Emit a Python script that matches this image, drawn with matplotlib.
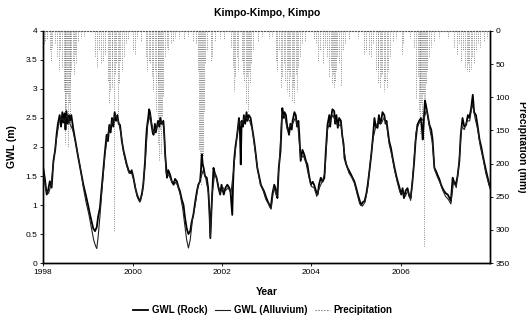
import matplotlib.pyplot as plt
from matplotlib.ticker import FormatStrFormatter

plt.rcParams['font.family'] = ['Liberation Sans', 'DejaVu Sans']

# GWL (Rock), decimal year and level (m)
rock_t = [1998.00, 1998.04, 1998.08, 1998.11, 1998.15, 1998.19, 1998.23, 1998.27, 1998.30, 1998.33,
          1998.37, 1998.40, 1998.43, 1998.45, 1998.48, 1998.50, 1998.52, 1998.55, 1998.58, 1998.60,
          1998.63, 1998.67, 1998.71, 1998.75, 1998.79, 1998.83, 1998.87, 1998.90, 1998.94, 1998.97,
          1999.01, 1999.05, 1999.09, 1999.12, 1999.16, 1999.20, 1999.23, 1999.27, 1999.31, 1999.35,
          1999.38, 1999.42, 1999.45, 1999.48, 1999.51, 1999.54, 1999.57, 1999.60, 1999.63, 1999.66,
          1999.69, 1999.72, 1999.76, 1999.80, 1999.84, 1999.87, 1999.91, 1999.95, 1999.98, 2000.02,
          2000.06, 2000.10, 2000.14, 2000.17, 2000.21, 2000.24, 2000.28, 2000.30, 2000.32, 2000.35,
          2000.37, 2000.39, 2000.42, 2000.45, 2000.47, 2000.50, 2000.52, 2000.54, 2000.57, 2000.60,
          2000.62, 2000.65, 2000.69, 2000.71, 2000.73, 2000.77, 2000.80, 2000.84, 2000.88, 2000.92,
          2000.95, 2000.99, 2001.03, 2001.06, 2001.10, 2001.14, 2001.17, 2001.21, 2001.25, 2001.29,
          2001.32, 2001.36, 2001.40, 2001.44, 2001.47, 2001.51, 2001.53, 2001.55, 2001.57, 2001.59,
          2001.62, 2001.66, 2001.69, 2001.72, 2001.74, 2001.77, 2001.81, 2001.84, 2001.88, 2001.92,
          2001.96, 2001.99, 2002.04, 2002.08, 2002.12, 2002.16, 2002.19, 2002.23, 2002.25, 2002.27,
          2002.30, 2002.34, 2002.38, 2002.40, 2002.42, 2002.44, 2002.47, 2002.49, 2002.52, 2002.55,
          2002.57, 2002.60, 2002.64, 2002.67, 2002.70, 2002.72, 2002.76, 2002.79, 2002.83, 2002.87,
          2002.90, 2002.94, 2002.98, 2003.02, 2003.06, 2003.09, 2003.13, 2003.17, 2003.21, 2003.24,
          2003.27, 2003.31, 2003.35, 2003.38, 2003.40, 2003.43, 2003.46, 2003.50, 2003.53, 2003.56,
          2003.58, 2003.62, 2003.65, 2003.68, 2003.71, 2003.73, 2003.76, 2003.80, 2003.84, 2003.88,
          2003.91, 2003.95, 2003.99, 2004.03, 2004.06, 2004.10, 2004.14, 2004.17, 2004.21, 2004.25,
          2004.29, 2004.32, 2004.36, 2004.40, 2004.42, 2004.44, 2004.47, 2004.51, 2004.53, 2004.56,
          2004.59, 2004.62, 2004.66, 2004.69, 2004.72, 2004.74, 2004.78, 2004.81, 2004.85, 2004.89,
          2004.92, 2004.96, 2005.00, 2005.04, 2005.08, 2005.11, 2005.15, 2005.19, 2005.23, 2005.26,
          2005.30, 2005.34, 2005.38, 2005.41, 2005.44, 2005.48, 2005.51, 2005.54, 2005.56, 2005.59,
          2005.63, 2005.66, 2005.68, 2005.71, 2005.74, 2005.78, 2005.82, 2005.86, 2005.90, 2005.93,
          2005.97, 2006.01, 2006.04, 2006.07, 2006.11, 2006.15, 2006.19, 2006.22, 2006.26, 2006.30,
          2006.33, 2006.37, 2006.41, 2006.45, 2006.47, 2006.49, 2006.52, 2006.54, 2006.56, 2006.60,
          2006.64, 2006.68, 2006.71, 2006.75, 2006.79, 2006.82, 2006.86, 2006.90, 2006.94, 2006.97,
          2007.01, 2007.05, 2007.09, 2007.12, 2007.16, 2007.19, 2007.23, 2007.27, 2007.31, 2007.34,
          2007.38, 2007.42, 2007.46, 2007.50, 2007.53, 2007.57, 2007.61, 2007.64, 2007.68, 2007.72,
          2007.76, 2007.80, 2007.83, 2007.87, 2007.91, 2007.95, 2007.98, 2008.00]
rock_v = [1.65, 1.45, 1.18, 1.25, 1.41, 1.30, 1.76, 1.95, 2.21, 2.40,
          2.55, 2.35, 2.60, 2.42, 2.58, 2.30, 2.62, 2.40, 2.55, 2.45,
          2.55, 2.33, 2.15, 1.98, 1.80, 1.64, 1.48, 1.35, 1.22, 1.12,
          0.98, 0.83, 0.70, 0.60, 0.55, 0.62, 0.80, 0.95, 1.30, 1.64,
          1.90, 2.21, 2.10, 2.38, 2.25, 2.50, 2.35, 2.60, 2.45, 2.55,
          2.40, 2.38, 2.10, 1.93, 1.80, 1.70, 1.60, 1.55, 1.60, 1.47,
          1.30, 1.18, 1.10, 1.07, 1.20, 1.35, 1.76, 2.10, 2.33, 2.50,
          2.65, 2.60, 2.40, 2.25, 2.21, 2.40, 2.25, 2.33, 2.45, 2.35,
          2.50, 2.40, 2.45, 2.20, 1.87, 1.47, 1.60, 1.52, 1.40, 1.35,
          1.45, 1.41, 1.30, 1.24, 1.10, 1.00, 0.80, 0.60, 0.50, 0.55,
          0.70, 0.83, 1.05, 1.24, 1.35, 1.41, 1.60, 1.87, 1.70, 1.64,
          1.50, 1.47, 1.30, 0.90, 0.43, 1.00, 1.64, 1.55, 1.47, 1.30,
          1.18, 1.35, 1.18, 1.30, 1.35, 1.30, 1.24, 0.83, 1.40, 1.76,
          2.00, 2.21, 2.50, 2.30, 1.70, 2.45, 2.35, 2.55, 2.40, 2.60,
          2.45, 2.55, 2.50, 2.35, 2.20, 2.10, 1.85, 1.64, 1.50, 1.35,
          1.30, 1.24, 1.15, 1.07, 1.00, 0.95, 1.20, 1.35, 1.25, 1.12,
          1.64, 1.93, 2.67, 2.50, 2.60, 2.55, 2.35, 2.21, 2.40, 2.30,
          2.45, 2.60, 2.55, 2.35, 2.45, 2.21, 1.76, 1.95, 1.87, 1.75,
          1.70, 1.50, 1.35, 1.40, 1.35, 1.25, 1.18, 1.35, 1.47, 1.40,
          1.47, 1.90, 2.38, 2.55, 2.35, 2.50, 2.65, 2.62, 2.40, 2.55,
          2.33, 2.50, 2.45, 2.20, 2.05, 1.81, 1.70, 1.64, 1.58, 1.52,
          1.47, 1.41, 1.30, 1.18, 1.08, 1.00, 1.05, 1.07, 1.20, 1.35,
          1.60, 1.87, 2.20, 2.50, 2.35, 2.33, 2.55, 2.40, 2.45, 2.60,
          2.55, 2.40, 2.45, 2.27, 2.10, 1.98, 1.80, 1.64, 1.50, 1.41,
          1.30, 1.18, 1.29, 1.12, 1.25, 1.29, 1.15, 1.12, 1.40, 1.76,
          2.10, 2.38, 2.45, 2.50, 2.35, 2.13, 2.55, 2.80, 2.73, 2.55,
          2.38, 2.30, 2.13, 1.64, 1.58, 1.52, 1.45, 1.35, 1.28, 1.24,
          1.20, 1.18, 1.12, 1.07, 1.47, 1.40, 1.35, 1.50, 1.76, 2.20,
          2.50, 2.35, 2.38, 2.55, 2.50, 2.65, 2.90, 2.60, 2.55, 2.35,
          2.13, 2.00, 1.87, 1.72, 1.58, 1.45, 1.35, 1.30]

# GWL (Alluvium)
allu_t = [1998.00, 1998.06, 1998.12, 1998.18, 1998.24, 1998.30, 1998.36, 1998.42, 1998.48, 1998.54,
          1998.60, 1998.66, 1998.72, 1998.78, 1998.84, 1998.90, 1998.96, 1999.02, 1999.08, 1999.13,
          1999.17, 1999.20, 1999.23, 1999.27, 1999.32, 1999.38, 1999.44, 1999.50, 1999.56, 1999.62,
          1999.68, 1999.74, 1999.80, 1999.86, 1999.92, 1999.98, 2000.04, 2000.10, 2000.16, 2000.22,
          2000.28, 2000.34, 2000.40, 2000.46, 2000.52, 2000.58, 2000.64, 2000.70, 2000.75, 2000.82,
          2000.88, 2000.94, 2001.00, 2001.06, 2001.12, 2001.17, 2001.21, 2001.25, 2001.29, 2001.34,
          2001.40, 2001.46, 2001.52, 2001.58, 2001.64, 2001.70, 2001.74, 2001.78, 2001.84, 2001.90,
          2001.96, 2002.02, 2002.08, 2002.14, 2002.20, 2002.26, 2002.32, 2002.38, 2002.44, 2002.50,
          2002.56, 2002.62, 2002.68, 2002.74, 2002.80, 2002.86, 2002.92, 2002.98, 2003.04, 2003.10,
          2003.16, 2003.22, 2003.28, 2003.34, 2003.40, 2003.46, 2003.52, 2003.58, 2003.64, 2003.70,
          2003.76, 2003.82, 2003.88, 2003.94, 2004.00, 2004.06, 2004.12, 2004.18, 2004.24, 2004.30,
          2004.36, 2004.42, 2004.48, 2004.54, 2004.60, 2004.66, 2004.72, 2004.78, 2004.84, 2004.90,
          2004.96, 2005.02, 2005.08, 2005.14, 2005.20, 2005.26, 2005.32, 2005.38, 2005.44, 2005.50,
          2005.56, 2005.62, 2005.68, 2005.74, 2005.80, 2005.86, 2005.92, 2005.98, 2006.04, 2006.10,
          2006.16, 2006.22, 2006.28, 2006.34, 2006.40, 2006.46, 2006.52, 2006.58, 2006.64, 2006.70,
          2006.76, 2006.82, 2006.88, 2006.94, 2007.00, 2007.06, 2007.12, 2007.18, 2007.24, 2007.30,
          2007.36, 2007.42, 2007.48, 2007.54, 2007.60, 2007.66, 2007.72, 2007.78, 2007.84, 2007.90,
          2007.96, 2008.00]
allu_v = [1.60, 1.25, 1.20, 1.35, 1.80, 2.15, 2.45, 2.50, 2.45, 2.55,
          2.40, 2.30, 2.10, 1.85, 1.60, 1.30, 1.05, 0.85, 0.60, 0.40,
          0.30, 0.25, 0.45, 0.80, 1.30, 1.85, 2.20, 2.35, 2.45, 2.55,
          2.45, 2.25, 1.90, 1.70, 1.55, 1.55, 1.40, 1.15, 1.05, 1.20,
          1.70, 2.40, 2.55, 2.25, 2.30, 2.40, 2.45, 2.35, 1.55, 1.50,
          1.40, 1.40, 1.35, 1.20, 0.95, 0.65, 0.40, 0.26, 0.40, 0.75,
          1.00, 1.30, 1.45, 1.60, 1.45, 1.20, 0.45, 1.20, 1.55, 1.40,
          1.20, 1.30, 1.25, 1.30, 1.20, 1.60, 2.10, 2.45, 2.40, 2.50,
          2.50, 2.45, 2.30, 1.95, 1.60, 1.35, 1.25, 1.10, 1.02, 0.93,
          1.30, 1.15, 1.70, 2.55, 2.55, 2.30, 2.35, 2.40, 2.50, 2.35,
          1.80, 1.85, 1.72, 1.50, 1.32, 1.30, 1.15, 1.30, 1.40, 1.55,
          2.30, 2.45, 2.55, 2.45, 2.35, 2.40, 2.00, 1.70, 1.55, 1.48,
          1.38, 1.20, 1.02, 0.98, 1.05, 1.30, 1.75, 2.15, 2.35, 2.45,
          2.40, 2.50, 2.40, 2.05, 1.85, 1.60, 1.40, 1.22, 1.22, 1.15,
          1.25, 1.08, 1.60, 2.25, 2.40, 2.45, 2.50, 2.65, 2.35, 2.10,
          1.60, 1.48, 1.38, 1.25, 1.15, 1.10, 1.02, 1.40, 1.30, 1.70,
          2.35, 2.30, 2.45, 2.45, 2.75, 2.50, 2.30, 2.00, 1.80, 1.55,
          1.38, 1.28]

# Precipitation events, decimal year and amount (mm)
rain_t = [1998.03, 1998.05, 1998.09, 1998.15, 1998.18, 1998.20, 1998.26, 1998.31, 1998.35, 1998.38,
          1998.43, 1998.46, 1998.48, 1998.50, 1998.52, 1998.53, 1998.55, 1998.57, 1998.59, 1998.61,
          1998.63, 1998.66, 1998.68, 1998.71, 1998.74, 1998.78, 1998.85, 1998.92,
          1999.15, 1999.20, 1999.24, 1999.30, 1999.34, 1999.38, 1999.44, 1999.47, 1999.50, 1999.53,
          1999.55, 1999.58, 1999.61, 1999.64, 1999.67, 1999.70, 1999.73, 1999.76, 1999.80, 1999.85,
          1999.90,
          2000.02, 2000.05, 2000.10, 2000.20, 2000.30, 2000.33, 2000.36, 2000.40, 2000.43, 2000.46,
          2000.50, 2000.53, 2000.56, 2000.58, 2000.60, 2000.62, 2000.64, 2000.66, 2000.68, 2000.72,
          2000.76, 2000.80, 2000.85, 2000.90, 2000.96,
          2001.05, 2001.15, 2001.25, 2001.35, 2001.42, 2001.47, 2001.49, 2001.51, 2001.53, 2001.55,
          2001.57, 2001.59, 2001.62, 2001.67, 2001.75, 2001.78, 2001.85, 2001.95,
          2002.05, 2002.20, 2002.24, 2002.27, 2002.30, 2002.33, 2002.36, 2002.44, 2002.47, 2002.50,
          2002.53, 2002.55, 2002.58, 2002.60, 2002.63, 2002.66, 2002.70, 2002.80, 2002.90,
          2003.05, 2003.12, 2003.20, 2003.24, 2003.27, 2003.31, 2003.34, 2003.38, 2003.42, 2003.45,
          2003.48, 2003.50, 2003.53, 2003.56, 2003.59, 2003.62, 2003.65, 2003.68, 2003.71, 2003.75,
          2003.80, 2003.86,
          2004.05, 2004.10, 2004.15, 2004.20, 2004.25, 2004.30, 2004.35, 2004.40, 2004.43, 2004.45,
          2004.48, 2004.50, 2004.52, 2004.55, 2004.58, 2004.62, 2004.66, 2004.70, 2004.75, 2004.85,
          2005.05, 2005.18, 2005.22, 2005.28, 2005.33, 2005.38, 2005.45, 2005.48, 2005.50, 2005.53,
          2005.56, 2005.59, 2005.62, 2005.65, 2005.68, 2005.72, 2005.76, 2005.82, 2005.90,
          2006.02, 2006.06, 2006.20, 2006.30, 2006.34, 2006.38, 2006.40, 2006.42, 2006.44, 2006.46,
          2006.48, 2006.50, 2006.52, 2006.54, 2006.56, 2006.58, 2006.62, 2006.68, 2006.75, 2006.85,
          2007.05, 2007.20, 2007.25, 2007.30, 2007.35, 2007.40, 2007.44, 2007.47, 2007.50, 2007.53,
          2007.56, 2007.60, 2007.64, 2007.68, 2007.72, 2007.78, 2007.85, 2007.92]
rain_v = [20, 15, 12, 30, 45, 25, 18, 40, 60, 30,
          55, 90, 121, 170, 140, 95, 175, 110, 150, 80,
          60, 45, 65, 35, 50, 15, 10, 8,
          40, 55, 30, 50, 45, 35, 75, 110, 90, 60,
          85, 302, 65, 50, 130, 80, 45, 60, 40, 20,
          12,
          30, 35, 10, 15, 40, 60, 45, 50, 70, 90,
          60, 120, 80, 170, 196, 150, 185, 130, 100, 40,
          25, 30, 20, 15, 10,
          10, 12, 8, 15, 20, 60, 180, 215, 232, 200,
          190, 120, 50, 30, 45, 40, 15, 10,
          12, 25, 55, 90, 70, 40, 60, 45, 65, 76,
          110, 70, 120, 60, 80, 50, 30, 15, 8,
          10, 8, 45, 60, 30, 85, 70, 50, 75, 90,
          60, 100, 70, 105, 85, 110, 65, 90, 55, 40,
          20, 15,
          12, 20, 45, 30, 50, 25, 40, 70, 55, 80,
          65, 85, 75, 60, 40, 50, 81, 30, 20, 12,
          10, 35, 30, 35, 40, 20, 60, 80, 55, 85,
          70, 65, 90, 75, 85, 60, 40, 15, 10,
          36, 20, 10, 25, 101, 70, 120, 90, 155, 110,
          140, 95, 324, 130, 80, 60, 40, 25, 15, 10,
          10, 25, 35, 20, 45, 30, 55, 60, 50, 62,
          58, 40, 50, 30, 20, 25, 15, 10]

fig = plt.figure(figsize=(5.26, 3.22), dpi=100)
ax = fig.add_axes([0.082, 0.183, 0.85, 0.721])
ax2 = ax.twinx()

l1, = ax.plot(rock_t, rock_v, color='black', lw=1.3, label='GWL (Rock)')
l2, = ax.plot(allu_t, allu_v, color='#222222', lw=0.8, label='GWL (Alluvium)')
ax2.vlines(rain_t, 0, rain_v, colors='#666666', linestyles=':', lw=0.6)
l3, = ax2.plot([], [], color='#555555', ls=':', lw=0.8, label='Precipitation')

ax.set_xlim(1998, 2008)
ax.set_ylim(0, 4)
ax.set_xticks([1998, 2000, 2002, 2004, 2006])
ax.set_yticks([0, 0.5, 1, 1.5, 2, 2.5, 3, 3.5, 4])
ax.yaxis.set_major_formatter(FormatStrFormatter('%g'))
ax2.set_ylim(350, 0)
ax2.set_yticks(range(0, 351, 50))

for a in (ax, ax2):
    a.tick_params(labelsize=6, length=2, width=0.6, pad=2)
    a.spines['top'].set_visible(False)
    for s in ('left', 'right', 'bottom'):
        a.spines[s].set_linewidth(1.0)
# dotted precipitation baseline along the top
ax2.spines['top'].set_visible(True)
ax2.spines['top'].set_linestyle(':')
ax2.spines['top'].set_color('#555555')
ax2.spines['top'].set_linewidth(0.8)
ax.set_zorder(ax2.get_zorder() + 1)
ax.patch.set_visible(False)

ax.set_title('Kimpo-Kimpo, Kimpo', fontsize=7.5, fontweight='bold', pad=11)
ax.set_xlabel('Year', fontsize=7.5, fontweight='bold', labelpad=8)
ax.set_ylabel('GWL (m)', fontsize=7.5, fontweight='bold', labelpad=6)
ax2.set_ylabel('Precipitation (mm)', fontsize=7.5, fontweight='bold', rotation=270, labelpad=12)

fig.legend(handles=[l1, l2, l3], loc='center', bbox_to_anchor=(0.5, 0.037), ncol=3,
           frameon=False, prop={'weight': 'bold', 'size': 7},
           handlelength=1.5, columnspacing=0.8, handletextpad=0.4)

fig.savefig('out.png', dpi=100)
